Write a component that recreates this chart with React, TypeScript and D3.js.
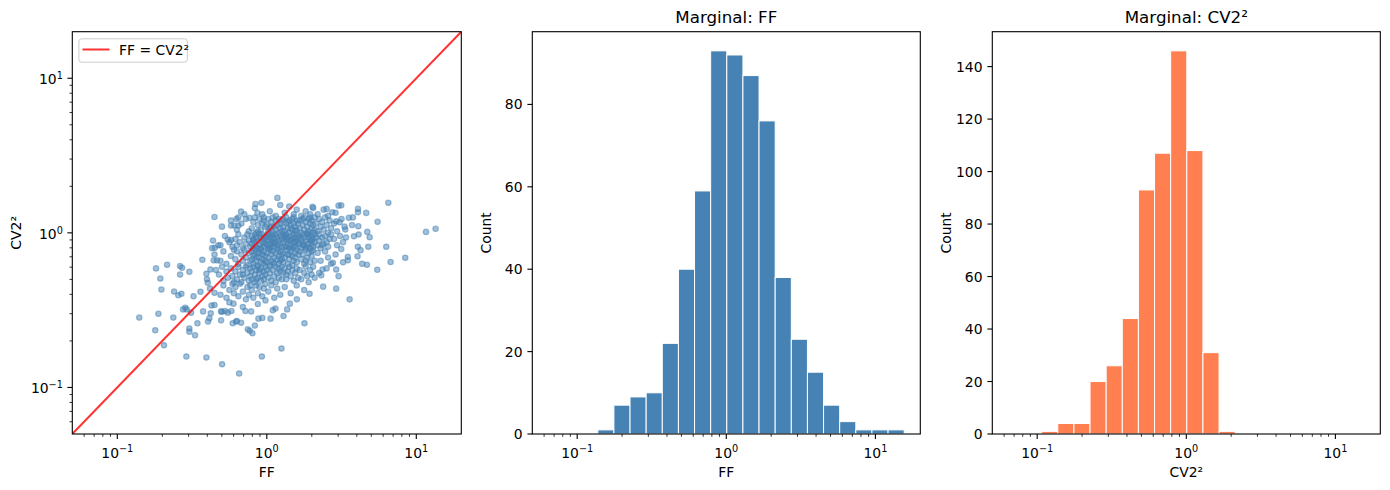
import React from "react";
import * as d3 from "d3";

const FONT = "'DejaVu Sans', sans-serif";

// ---------- data ----------
// shared logarithmic histogram bins (log10 of first and last edge, number of bins)
const binLog10Lo = -0.97;
const binLog10Hi = 1.193;
const binCount = 20;

const ffCounts = [0, 1, 7, 9, 10, 22, 40, 59, 93, 92, 87, 76, 38, 23, 15, 7, 3, 1, 1, 1];
const cv2Counts = [1, 4, 4, 20, 26, 44, 93, 107, 146, 108, 31, 1, 0, 0, 0, 0, 0, 0, 0, 0];

const logMajorTicks = [0.1, 1, 10];
const logMajorExponents = ["\u22121", "0", "1"];
const ffCountTicks = [0, 20, 40, 60, 80];
const cv2CountTicks = [0, 20, 40, 60, 80, 100, 120, 140];
const axisLimits = [0.05, 20];

// scatter points, read as [log10 FF, log10 CV2²] from the log-log panel
const scatterOutliers: [number, number][] = [
  [-0.853,-0.548],[-0.746,-0.630],[-0.688,-0.727],[-0.725,-0.523],[-0.741,-0.230],[-0.712,-0.295],[-0.705,-0.366],[-0.667,-0.206],[-0.625,-0.548],[-0.580,-0.215],
  [-0.567,-0.226],[-0.518,-0.252],[-0.592,-0.404],[-0.571,-0.394],[-0.560,-0.495],[-0.545,-0.484],[-0.536,-0.495],[-0.507,-0.516],[-0.518,-0.619],[-0.518,-0.639],
  [-0.480,-0.662],[-0.538,-0.800],[-0.464,-0.585],[-0.444,-0.381],[-0.431,-0.174],[-0.426,-0.508],[-0.404,-0.265],[-0.395,-0.323],[-0.393,-0.574],[-0.384,-0.553],
  [-0.375,-0.520],[-0.404,-0.806],[-0.350,0.103],[-0.366,-0.099],[-0.348,-0.097],[-0.324,-0.080],[-0.355,-0.178],[-0.333,-0.178],[-0.377,-0.237],[-0.350,-0.387],
  [-0.350,-0.467],[-0.306,-0.508],[-0.306,-0.566],[-0.299,-0.850],[-0.279,-0.505],[-0.261,-0.516],[-0.237,-0.505],[-0.228,-0.585],[-0.223,-0.458],[-0.205,-0.574],
  [-0.185,-0.910],[-0.172,-0.581],[-0.143,-0.505],[-0.127,-0.624],[-0.114,-0.634],[-0.096,-0.649],[-0.105,-0.508],[-0.056,-0.555],[-0.033,-0.800],[-0.009,-0.437],
  [0.025,-0.555],[0.058,-0.490],[0.098,-0.748],[0.112,-0.538],[0.136,-0.495],[0.154,-0.458],[0.252,-0.585],[0.201,-0.430],[0.286,-0.394],[0.377,-0.348],
  [0.464,-0.361],[0.554,-0.430],[0.739,-0.239],[0.828,-0.189],[0.926,-0.161],[0.799,-0.090],[0.741,0.071],[0.813,0.194],[1.065,0.006],[1.129,0.026],
  [0.670,-0.206],[0.638,-0.200],[0.607,-0.151],[0.679,-0.090],[0.609,-0.090],[0.627,-0.112],[0.542,-0.178],[0.542,-0.155],[0.464,-0.237],[0.442,-0.194],
  [0.373,-0.237],[0.364,-0.275],[0.498,-0.105],[0.583,-0.022],[0.614,-0.011],[0.672,0.006],[0.688,-0.028],[0.612,0.043],[0.610,0.155],[0.610,0.133],
  [0.665,0.129],[0.576,0.100],[0.549,0.097],[0.525,0.022],[0.480,0.176],[0.498,0.178],[0.400,0.155],[0.438,0.133],[0.464,0.075],[0.487,0.069],
  [0.306,0.168],[0.071,0.226],[-0.036,0.194],[-0.076,0.187],[-0.172,0.138],[-0.063,0.129],[-0.116,0.097],[-0.203,0.090],[-0.239,0.047],[-0.217,0.047],
  [-0.190,0.047],[-0.261,-0.043],[-0.239,-0.047],
];

const scatterCore: [number, number][] = [
  // CV2² ~ 10^0.11 .. 10^0.21
  [-0.15,0.12],[-0.08,0.16],[-0.03,0.12],[0.02,0.14],[0.06,0.11],[0.09,0.18],[0.12,0.13],[0.15,0.17],[0.18,0.12],[0.20,0.15],
  [0.23,0.11],[0.26,0.14],[0.29,0.12],[0.31,0.16],[0.34,0.12],[0.38,0.15],[0.41,0.11],[0.46,0.13],
  // 10^0 .. 10^0.1
  [-0.30,0.04],[-0.24,0.08],[-0.20,0.02],[-0.17,0.06],[-0.14,0.09],[-0.12,0.01],[-0.19,0.10],
  [-0.10,0.03],[-0.09,0.07],[-0.07,0.00],[-0.06,0.05],[-0.05,0.09],[-0.04,0.02],[-0.03,0.06],[-0.02,0.10],[-0.01,0.04],[-0.08,0.10],[-0.06,0.01],[-0.02,0.08],
  [0.00,0.05],[0.01,0.01],[0.01,0.09],[0.02,0.03],[0.03,0.07],[0.04,0.00],[0.04,0.10],[0.05,0.04],[0.06,0.08],[0.06,0.02],[0.07,0.05],[0.08,0.00],[0.08,0.09],[0.09,0.03],[0.09,0.06],[0.10,0.01],[0.10,0.08],[0.03,0.04],
  [0.11,0.04],[0.11,0.09],[0.12,0.01],[0.13,0.06],[0.13,0.10],[0.14,0.03],[0.15,0.08],[0.15,0.00],[0.16,0.05],[0.17,0.02],[0.17,0.09],[0.18,0.06],[0.19,0.01],[0.19,0.04],[0.20,0.08],[0.20,0.02],[0.21,0.06],[0.14,0.07],[0.18,0.10],[0.16,0.03],
  [0.22,0.03],[0.22,0.08],[0.23,0.00],[0.24,0.05],[0.25,0.10],[0.25,0.02],[0.26,0.07],[0.27,0.04],[0.28,0.09],[0.28,0.01],[0.29,0.06],[0.30,0.03],[0.30,0.08],[0.31,0.00],[0.31,0.05],[0.32,0.10],[0.32,0.02],[0.24,0.09],[0.27,0.00],[0.29,0.10],
  [0.33,0.06],[0.34,0.01],[0.35,0.09],[0.36,0.04],[0.37,0.07],[0.38,0.02],[0.39,0.10],[0.40,0.05],[0.41,0.00],[0.42,0.08],[0.43,0.03],
  [0.45,0.06],[0.47,0.01],[0.50,0.09],[0.52,0.04],[0.57,0.05],
  // 10^-0.1 .. 10^0
  [-0.36,-0.05],[-0.31,-0.08],[-0.28,-0.02],[-0.25,-0.06],[-0.23,-0.09],
  [-0.21,-0.04],[-0.20,-0.08],[-0.19,-0.01],[-0.18,-0.06],[-0.16,-0.10],[-0.15,-0.03],[-0.14,-0.07],[-0.13,-0.01],[-0.12,-0.05],[-0.11,-0.09],
  [-0.10,-0.02],[-0.10,-0.07],[-0.09,-0.04],[-0.09,-0.10],[-0.08,-0.01],[-0.08,-0.06],[-0.07,-0.03],[-0.07,-0.09],[-0.06,-0.05],[-0.05,-0.01],[-0.05,-0.08],
  [-0.04,-0.03],[-0.04,-0.10],[-0.03,-0.06],[-0.03,-0.01],[-0.02,-0.04],[-0.02,-0.09],[-0.01,-0.02],[-0.01,-0.07],[-0.06,-0.10],[-0.09,-0.05],[-0.02,-0.06],
  [0.00,-0.03],[0.00,-0.08],[0.01,-0.01],[0.01,-0.05],[0.01,-0.10],[0.02,-0.03],[0.02,-0.07],[0.03,-0.01],[0.03,-0.05],[0.03,-0.09],[0.04,-0.02],[0.04,-0.06],[0.05,-0.04],
  [0.05,-0.09],[0.06,-0.01],[0.06,-0.06],[0.07,-0.03],[0.07,-0.08],[0.08,-0.05],[0.08,-0.10],[0.09,-0.02],[0.09,-0.07],[0.10,-0.04],[0.10,-0.09],[0.05,-0.07],[0.02,-0.10],
  [0.11,-0.01],[0.11,-0.06],[0.12,-0.03],[0.12,-0.09],[0.13,-0.05],[0.13,-0.01],[0.14,-0.07],[0.14,-0.03],[0.15,-0.10],[0.15,-0.05],[0.16,-0.02],[0.16,-0.08],[0.17,-0.04],[0.17,-0.10],
  [0.18,-0.01],[0.18,-0.06],[0.19,-0.03],[0.19,-0.09],[0.20,-0.05],[0.20,-0.01],[0.21,-0.07],[0.21,-0.03],[0.13,-0.09],[0.16,-0.05],[0.19,-0.06],[0.12,-0.02],[0.18,-0.09],
  [0.22,-0.02],[0.22,-0.07],[0.23,-0.04],[0.23,-0.10],[0.24,-0.01],[0.24,-0.06],[0.25,-0.03],[0.25,-0.08],[0.26,-0.05],[0.27,-0.01],[0.27,-0.09],[0.28,-0.03],[0.28,-0.07],
  [0.29,-0.05],[0.29,-0.10],[0.30,-0.02],[0.30,-0.07],[0.31,-0.04],[0.31,-0.09],[0.32,-0.01],[0.32,-0.06],[0.26,-0.10],[0.24,-0.08],[0.28,-0.01],[0.30,-0.05],
  [0.33,-0.03],[0.34,-0.08],[0.35,-0.01],[0.35,-0.05],[0.36,-0.10],[0.37,-0.03],[0.38,-0.07],[0.39,-0.02],[0.40,-0.06],[0.41,-0.09],[0.42,-0.04],[0.43,-0.01],[0.37,-0.08],
  [0.45,-0.04],[0.47,-0.08],[0.49,-0.02],[0.51,-0.06],[0.53,-0.03],
  // 10^-0.21 .. 10^-0.11
  [-0.35,-0.14],[-0.31,-0.18],[-0.29,-0.12],[-0.27,-0.20],[-0.24,-0.15],[-0.22,-0.11],
  [-0.21,-0.17],[-0.20,-0.12],[-0.19,-0.20],[-0.17,-0.14],[-0.16,-0.18],[-0.15,-0.11],[-0.14,-0.16],[-0.13,-0.21],[-0.12,-0.13],[-0.11,-0.18],
  [-0.10,-0.12],[-0.10,-0.17],[-0.09,-0.20],[-0.08,-0.14],[-0.08,-0.11],[-0.07,-0.18],[-0.06,-0.13],[-0.06,-0.21],[-0.05,-0.16],[-0.04,-0.11],
  [-0.04,-0.19],[-0.03,-0.14],[-0.03,-0.17],[-0.02,-0.12],[-0.02,-0.20],[-0.01,-0.15],[-0.01,-0.18],[-0.09,-0.15],[-0.05,-0.13],[-0.07,-0.16],
  [0.00,-0.13],[0.00,-0.19],[0.01,-0.16],[0.02,-0.11],[0.02,-0.21],[0.03,-0.14],[0.03,-0.18],[0.04,-0.12],[0.05,-0.16],[0.05,-0.20],
  [0.06,-0.13],[0.07,-0.17],[0.07,-0.11],[0.08,-0.15],[0.08,-0.20],[0.09,-0.12],[0.09,-0.18],[0.10,-0.14],[0.10,-0.17],[0.04,-0.19],
  [0.11,-0.13],[0.11,-0.19],[0.12,-0.16],[0.13,-0.11],[0.14,-0.14],[0.14,-0.20],[0.15,-0.17],[0.16,-0.12],[0.17,-0.15],[0.17,-0.21],
  [0.18,-0.18],[0.19,-0.13],[0.19,-0.16],[0.20,-0.11],[0.20,-0.19],[0.21,-0.14],[0.15,-0.14],
  [0.22,-0.12],[0.23,-0.17],[0.24,-0.14],[0.25,-0.20],[0.26,-0.11],[0.27,-0.16],[0.28,-0.13],[0.29,-0.19],[0.30,-0.15],[0.31,-0.11],[0.32,-0.18],[0.26,-0.18],[0.30,-0.12],
  [0.34,-0.13],[0.36,-0.18],[0.39,-0.12],[0.41,-0.16],[0.43,-0.20],[0.46,-0.14],[0.51,-0.19],
  // 10^-0.32 .. 10^-0.22
  [-0.58,-0.27],[-0.40,-0.30],[-0.34,-0.24],
  [-0.32,-0.27],[-0.30,-0.22],[-0.29,-0.31],[-0.27,-0.25],[-0.26,-0.29],[-0.24,-0.23],[-0.23,-0.28],[-0.22,-0.32],
  [-0.21,-0.25],[-0.20,-0.30],[-0.19,-0.22],[-0.18,-0.27],[-0.17,-0.32],[-0.16,-0.24],[-0.15,-0.29],[-0.14,-0.22],[-0.13,-0.26],[-0.12,-0.31],[-0.11,-0.23],[-0.11,-0.28],[-0.16,-0.27],
  [-0.10,-0.25],[-0.10,-0.30],[-0.09,-0.22],[-0.08,-0.27],[-0.08,-0.32],[-0.07,-0.24],[-0.06,-0.29],[-0.06,-0.22],[-0.05,-0.26],
  [-0.04,-0.31],[-0.04,-0.23],[-0.03,-0.28],[-0.02,-0.25],[-0.02,-0.30],[-0.01,-0.22],[-0.01,-0.27],[-0.07,-0.30],[-0.05,-0.24],
  [0.00,-0.24],[0.01,-0.29],[0.02,-0.22],[0.02,-0.26],[0.03,-0.31],[0.04,-0.24],[0.05,-0.28],[0.06,-0.22],[0.06,-0.32],[0.07,-0.26],[0.08,-0.23],[0.08,-0.29],[0.09,-0.25],[0.10,-0.30],[0.10,-0.22],
  [0.11,-0.26],[0.12,-0.23],[0.13,-0.30],[0.14,-0.25],[0.15,-0.22],[0.16,-0.28],[0.17,-0.24],[0.18,-0.31],[0.19,-0.26],[0.20,-0.23],[0.21,-0.29],[0.13,-0.27],
  [0.22,-0.24],[0.23,-0.30],[0.25,-0.26],[0.26,-0.22],[0.27,-0.28],[0.28,-0.32],[0.29,-0.24],[0.30,-0.27],[0.31,-0.22],[0.32,-0.29],
  [0.35,-0.26],[0.40,-0.23],[0.48,-0.28],
  // 10^-0.43 .. 10^-0.33
  [-0.62,-0.38],[-0.49,-0.41],[-0.38,-0.36],
  [-0.31,-0.40],[-0.29,-0.34],[-0.27,-0.42],[-0.25,-0.37],[-0.23,-0.33],[-0.22,-0.39],
  [-0.21,-0.35],[-0.19,-0.41],[-0.18,-0.33],[-0.16,-0.38],[-0.14,-0.43],[-0.13,-0.35],[-0.12,-0.40],[-0.11,-0.34],
  [-0.10,-0.37],[-0.09,-0.42],[-0.07,-0.34],[-0.06,-0.39],[-0.05,-0.35],[-0.03,-0.41],[-0.02,-0.36],[-0.01,-0.33],
  [0.01,-0.38],[0.03,-0.34],[0.05,-0.42],[0.07,-0.36],[0.09,-0.40],[0.12,-0.35],[0.16,-0.39],[0.20,-0.34],[0.25,-0.37],
  // below 10^-0.44
  [-0.37,-0.47],[-0.30,-0.51],[-0.25,-0.45],[-0.16,-0.48],[-0.06,-0.46],[0.04,-0.50],
  [-0.20,-0.57],[-0.08,-0.60],[-0.03,-0.55],
];

// ---------- layout ----------
const W = 1390;
const H = 490;
const TOP = 31.7;
const BOTTOM = 434;
const PANEL_X: [number, number][] = [
  [72.3, 461.3],
  [532.3, 920.3],
  [992.3, 1380.3],
];
const FS = 13.9;
const MAJOR = 4.9;
const MINOR = 2.8;

const STEEL = "#4682b4";
const CORAL = "#ff7f50";

const logMinorTicks: number[] = [];
[-2, -1, 0, 1].forEach((d) => {
  for (let k = 2; k <= 9; k++) {
    const v = k * Math.pow(10, d);
    if (v > axisLimits[0] * 1.0001 && v < axisLimits[1] * 0.9999) logMinorTicks.push(v);
  }
});

function PowLabel({ x, y, exp, anchor }: { x: number; y: number; exp: string; anchor: string }) {
  return (
    <text x={x} y={y} textAnchor={anchor} fontSize={FS} fontFamily={FONT} fill="#000">
      10
      <tspan dy={-5.3} fontSize={9.7}>
        {exp}
      </tspan>
    </text>
  );
}

function LogXAxis({ scale }: { scale: d3.ScaleLogarithmic<number, number> }) {
  return (
    <g>
      {logMinorTicks.map((v) => (
        <line key={"mx" + v} x1={scale(v)} x2={scale(v)} y1={BOTTOM} y2={BOTTOM + MINOR} stroke="#000" strokeWidth={0.8} />
      ))}
      {logMajorTicks.map((v, i) => (
        <g key={"Mx" + v}>
          <line x1={scale(v)} x2={scale(v)} y1={BOTTOM} y2={BOTTOM + MAJOR} stroke="#000" strokeWidth={1.1} />
          <PowLabel x={scale(v)} y={457.5} exp={logMajorExponents[i]} anchor="middle" />
        </g>
      ))}
    </g>
  );
}

function LogYAxis({ scale, left }: { scale: d3.ScaleLogarithmic<number, number>; left: number }) {
  return (
    <g>
      {logMinorTicks.map((v) => (
        <line key={"my" + v} y1={scale(v)} y2={scale(v)} x1={left} x2={left - MINOR} stroke="#000" strokeWidth={0.8} />
      ))}
      {logMajorTicks.map((v, i) => (
        <g key={"My" + v}>
          <line y1={scale(v)} y2={scale(v)} x1={left} x2={left - MAJOR} stroke="#000" strokeWidth={1.1} />
          <PowLabel x={left - MAJOR - 4.5} y={scale(v) + 6} exp={logMajorExponents[i]} anchor="end" />
        </g>
      ))}
    </g>
  );
}

function LinYAxis({ scale, left, ticks }: { scale: d3.ScaleLinear<number, number>; left: number; ticks: number[] }) {
  return (
    <g>
      {ticks.map((v) => (
        <g key={"ly" + v}>
          <line y1={scale(v)} y2={scale(v)} x1={left} x2={left - MAJOR} stroke="#000" strokeWidth={1.1} />
          <text x={left - MAJOR - 4.9} y={scale(v) + 5} textAnchor="end" fontSize={FS} fontFamily={FONT} fill="#000">
            {v}
          </text>
        </g>
      ))}
    </g>
  );
}

function Frame({ x0, x1 }: { x0: number; x1: number }) {
  return <rect x={x0} y={TOP} width={x1 - x0} height={BOTTOM - TOP} fill="none" stroke="#000" strokeWidth={1.1} />;
}

function XLabel({ x0, x1, text }: { x0: number; x1: number; text: string }) {
  return (
    <text x={(x0 + x1) / 2} y={476.5} textAnchor="middle" fontSize={FS} fontFamily={FONT} fill="#000">
      {text}
    </text>
  );
}

function YLabel({ x, text }: { x: number; text: string }) {
  const cy = (TOP + BOTTOM) / 2;
  return (
    <text x={x} y={cy} transform={`rotate(-90 ${x} ${cy})`} textAnchor="middle" fontSize={FS} fontFamily={FONT} fill="#000">
      {text}
    </text>
  );
}

function Title({ x0, x1, text }: { x0: number; x1: number; text: string }) {
  return (
    <text x={(x0 + x1) / 2} y={23.3} textAnchor="middle" fontSize={16.7} fontFamily={FONT} fill="#000">
      {text}
    </text>
  );
}

const binEdges = d3.range(binCount + 1).map((i) => Math.pow(10, binLog10Lo + (i * (binLog10Hi - binLog10Lo)) / binCount));

function Histogram({ x0, x1, counts, ticks, color, xlabel, title }: { x0: number; x1: number; counts: number[]; ticks: number[]; color: string; xlabel: string; title: string }) {
  const xs = d3.scaleLog().domain(axisLimits).range([x0, x1]);
  const maxC = d3.max(counts) as number;
  const ys = d3.scaleLinear().domain([0, maxC * 1.05]).range([BOTTOM, TOP]);
  return (
    <g>
      {counts.map((c, i) =>
        c > 0 ? (
          <rect
            key={i}
            x={xs(binEdges[i])}
            width={xs(binEdges[i + 1]) - xs(binEdges[i])}
            y={ys(c)}
            height={BOTTOM - ys(c)}
            fill={color}
            stroke="#fff"
            strokeWidth={1}
          />
        ) : null
      )}
      <Frame x0={x0} x1={x1} />
      <LogXAxis scale={xs} />
      <LinYAxis scale={ys} left={x0} ticks={ticks} />
      <XLabel x0={x0} x1={x1} text={xlabel} />
      <YLabel x={x0 - 41.5} text="Count" />
      <Title x0={x0} x1={x1} text={title} />
    </g>
  );
}

function ScatterPanel() {
  const [x0, x1] = PANEL_X[0];
  const xs = d3.scaleLog().domain(axisLimits).range([x0, x1]);
  const ys = d3.scaleLog().domain(axisLimits).range([BOTTOM, TOP]);
  const pts = scatterOutliers.concat(scatterCore);
  return (
    <g>
      <defs>
        <clipPath id="clipScatter">
          <rect x={x0} y={TOP} width={x1 - x0} height={BOTTOM - TOP} />
        </clipPath>
      </defs>
      <g clipPath="url(#clipScatter)">
        {pts.map(([lf, lc], i) => (
          <circle
            key={i}
            cx={xs(Math.pow(10, lf))}
            cy={ys(Math.pow(10, lc))}
            r={2.7}
            fill={STEEL}
            fillOpacity={0.5}
            stroke={STEEL}
            strokeOpacity={0.5}
            strokeWidth={1.2}
          />
        ))}
        <line
          x1={xs(axisLimits[0])}
          y1={ys(axisLimits[0])}
          x2={xs(axisLimits[1])}
          y2={ys(axisLimits[1])}
          stroke="#ff0000"
          strokeOpacity={0.8}
          strokeWidth={2}
        />
      </g>
      <Frame x0={x0} x1={x1} />
      <LogXAxis scale={xs} />
      <LogYAxis scale={ys} left={x0} />
      <XLabel x0={x0} x1={x1} text="FF" />
      <YLabel x={21.5} text="CV2²" />
      {/* legend */}
      <rect x={78.9} y={38.8} width={108.4} height={23.4} rx={2.8} fill="#fff" fillOpacity={0.8} stroke="#cccccc" strokeWidth={1} />
      <line x1={82.5} x2={109.5} y1={49.5} y2={49.5} stroke="#ff0000" strokeOpacity={0.8} strokeWidth={2} />
      <text x={119} y={54.5} fontSize={FS} fontFamily={FONT} fill="#000">
        FF = CV2²
      </text>
    </g>
  );
}

export default function App() {
  return (
    <svg width={W} height={H} style={{ position: "absolute", left: 0, top: 0, background: "#fff" }} fontFamily={FONT}>
      <rect x={0} y={0} width={W} height={H} fill="#fff" />
      <ScatterPanel />
      <Histogram x0={PANEL_X[1][0]} x1={PANEL_X[1][1]} counts={ffCounts} ticks={ffCountTicks} color={STEEL} xlabel="FF" title="Marginal: FF" />
      <Histogram x0={PANEL_X[2][0]} x1={PANEL_X[2][1]} counts={cv2Counts} ticks={cv2CountTicks} color={CORAL} xlabel="CV2²" title="Marginal: CV2²" />
    </svg>
  );
}
